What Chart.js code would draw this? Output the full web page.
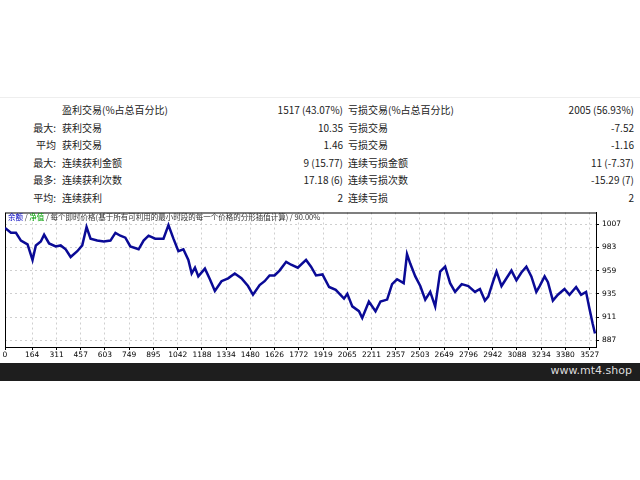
<!DOCTYPE html>
<html>
<head>
<meta charset="utf-8">
<script src="https://cdn.jsdelivr.net/npm/chart.js@4"></script>
<style>
  body { margin: 0; width: 640px; height: 480px; background: #fff; font-family: "Noto Sans CJK SC", "DejaVu Sans", sans-serif; position: relative; overflow: hidden; }
  #stats { position: absolute; left: 0; top: 97px; width: 640px; border-top: 1px solid #eee; padding-top: 3px; font-size: 10px; color: #222; }
  .row { position: relative; height: 17.6px; line-height: 17.6px; }
  .row span { position: absolute; white-space: nowrap; }
  .pre { right: 584px; }
  .l1 { left: 62px; }
  .v1 { right: 297px; }
  .l2 { left: 348px; }
  .v2 { right: 6px; }
  #wrap { position: absolute; left: 0; top: 205px; width: 640px; height: 158px; }
  #legend { position: absolute; left: 8px; top: 211px; font-size: 7.5px; color: #333; white-space: nowrap; }
  #bar { position: absolute; left: 0; top: 363px; width: 640px; height: 18px; background: #1e1e1e; }
  #bar span { position: absolute; right: 8px; top: 1px; color: #ddd; font-family: "DejaVu Sans", sans-serif; font-size: 11px; }
</style>
</head>
<body>
<div id="stats"></div>
<div id="wrap"><canvas id="balanceChart"></canvas></div>
<div id="legend"><span style="color:#0000c0">余额</span> / <span style="color:#00a000">净值</span> / 每个即时价格(基于所有可利用的最小时段的每一个价格的分形插值计算) / 90.00%</div>
<div id="bar"><span>www.mt4.shop</span></div>
<script>
// Tabla de estadísticas
const statPrefix = ['', '最大:', '平均', '最大:', '最多:', '平均:'];
const statLabels1 = ['盈利交易(%占总百分比)', '获利交易', '获利交易', '连续获利金额', '连续获利次数', '连续获利'];
const statValues1 = ['1517 (43.07%)', '10.35', '1.46', '9 (15.77)', '17.18 (6)', '2'];
const statLabels2 = ['亏损交易(%占总百分比)', '亏损交易', '亏损交易', '连续亏损金额', '连续亏损次数', '连续亏损'];
const statValues2 = ['2005 (56.93%)', '-7.52', '-1.16', '11 (-7.37)', '-15.29 (7)', '2'];

// Curva de balance
const tradeIndex = [0, 36, 66, 96, 136, 166, 186, 216, 236, 266, 306, 336, 366, 396, 436, 466, 492, 516, 556, 596, 636, 666, 696, 726, 756, 806, 836, 866, 906, 956, 986, 1016, 1046, 1076, 1106, 1126, 1146, 1166, 1206, 1236, 1266, 1306, 1346, 1386, 1426, 1466, 1496, 1536, 1566, 1596, 1626, 1656, 1696, 1726, 1766, 1816, 1846, 1876, 1915, 1955, 1995, 2045, 2065, 2095, 2135, 2155, 2195, 2235, 2265, 2305, 2335, 2365, 2405, 2425, 2445, 2475, 2505, 2535, 2565, 2595, 2625, 2655, 2685, 2715, 2755, 2795, 2835, 2865, 2895, 2915, 2945, 2965, 2995, 3025, 3055, 3085, 3115, 3145, 3175, 3205, 3225, 3255, 3275, 3305, 3335, 3375, 3405, 3445, 3475, 3505, 3525, 3545, 3559];
const balance = [1003, 998, 998, 990, 986, 970, 985, 989, 996, 987, 984, 985, 981, 973, 979, 985, 1004, 992, 990, 989, 990, 998, 995, 993, 984, 981, 990, 995, 992, 992, 1006, 992, 979, 981, 970, 956, 962, 953, 961, 950, 938, 948, 951, 956, 951, 943, 934, 944, 948, 954, 954, 959, 968, 965, 962, 970, 963, 954, 955, 942, 939, 930, 935, 922, 917, 910, 927, 917, 927, 929, 945, 950, 946, 976, 966, 953, 943, 929, 937, 922, 958, 963, 946, 937, 945, 943, 937, 940, 928, 932, 948, 958, 943, 951, 959, 949, 957, 963, 953, 937, 943, 953, 947, 928, 934, 940, 934, 942, 934, 937, 920, 904, 894];
const xTicks = [0, 164, 311, 457, 603, 749, 895, 1042, 1188, 1334, 1480, 1626, 1772, 1919, 2065, 2211, 2357, 2503, 2649, 2796, 2942, 3088, 3234, 3380, 3527];
const yTicks = [887, 911, 935, 959, 983, 1007];

// Renderizar la tabla
document.getElementById('stats').innerHTML = statPrefix.map((p, i) => `
  <div class="row">
    <span class="pre">${p}</span><span class="l1">${statLabels1[i]}</span><span class="v1">${statValues1[i]}</span>
    <span class="l2">${statLabels2[i]}</span><span class="v2">${statValues2[i]}</span>
  </div>`).join('');

const gridStyle = { color: '#cfcfcf', tickLength: 3, tickColor: '#000', drawTicks: true };

new Chart(document.getElementById('balanceChart').getContext('2d'), {
  type: 'line',
  data: {
    datasets: [{
      data: tradeIndex.map((x, i) => ({ x: x, y: balance[i] })),
      borderColor: '#0a0a96',
      borderWidth: 2.5,
      pointRadius: 0,
      tension: 0
    }]
  },
  options: {
    responsive: true,
    maintainAspectRatio: false,
    animation: false,
    layout: { padding: { left: 5, top: 5, right: 0, bottom: 0 } },
    plugins: { legend: { display: false }, tooltip: { enabled: false } },
    scales: {
      x: {
        type: 'linear', min: 0, max: 3565,
        afterBuildTicks: axis => { axis.ticks = xTicks.map(v => ({ value: v })); },
        afterFit: axis => { axis.height = 16; },
        grid: gridStyle,
        border: { color: '#000', width: 1, dash: [2, 3] },
        ticks: { autoSkip: false, maxRotation: 0, padding: 1, color: '#000', callback: v => String(v), font: { size: 7.5, family: 'DejaVu Sans' } }
      },
      y: {
        position: 'right', min: 880, max: 1019,
        afterBuildTicks: axis => { axis.ticks = yTicks.map(v => ({ value: v })); },
        afterFit: axis => { axis.width = 44; },
        grid: gridStyle,
        border: { color: '#000', width: 1, dash: [2, 3] },
        ticks: { padding: 3, color: '#000', callback: v => String(v), font: { size: 7.5, family: 'DejaVu Sans' } }
      }
    }
  },
  plugins: [{
    id: 'frame',
    beforeDatasetsDraw(chart) {
      const { ctx, chartArea: a } = chart;
      ctx.save();
      ctx.strokeStyle = '#000';
      ctx.lineWidth = 1;
      ctx.setLineDash([]);
      ctx.strokeRect(a.left + 0.5, a.top + 0.5, a.right - a.left, a.bottom - a.top);
      ctx.restore();
    }
  }]
});
</script>
</body>
</html>
